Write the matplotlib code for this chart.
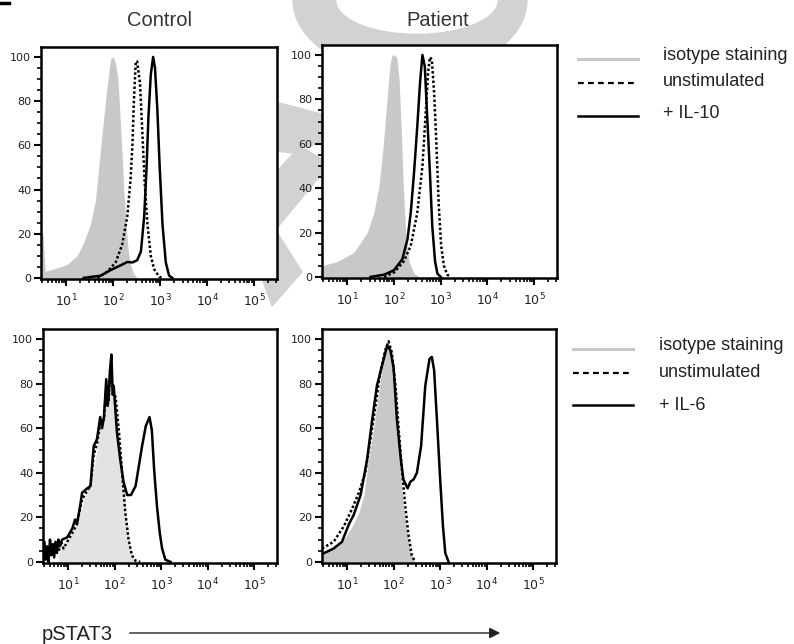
import numpy as np
import matplotlib
matplotlib.use('Agg')
import matplotlib.pyplot as plt
from matplotlib.ticker import LogLocator, MultipleLocator, NullFormatter
from matplotlib.patches import Ellipse, Polygon, FancyArrowPatch
from matplotlib.lines import Line2D

W, H = 794, 644

# --- data (x = log10 fluorescence, y = % of max) ---
# Control, IL-10
c10_iso_x = [0.47, 0.47, 0.50, 0.55, 0.80, 1.01, 1.23, 1.37, 1.51, 1.62, 1.69, 1.76, 1.86, 1.94, 2.00, 2.05, 2.10, 2.14, 2.19, 2.23, 2.28, 2.32, 2.37, 2.43, 2.51]
c10_iso_y = [0, 20, 20, 3, 4.5, 6, 10, 16, 24, 35, 50, 65, 85, 99, 100, 97, 90, 75, 55, 38, 22, 12, 6, 2, 0]
c10_uns_x = [1.66, 1.87, 2.05, 2.19, 2.30, 2.37, 2.41, 2.44, 2.48, 2.51, 2.57, 2.62, 2.67, 2.73, 2.80, 2.87, 2.98, 3.05]
c10_uns_y = [0, 2.7, 7, 15, 28, 45, 61, 80, 98, 98, 88, 66, 43, 24, 10, 4, 0.5, 0]
c10_stim_x = [1.37, 1.73, 1.94, 2.16, 2.30, 2.41, 2.51, 2.59, 2.66, 2.71, 2.75, 2.80, 2.85, 2.89, 2.94, 2.99, 3.05, 3.12, 3.19, 3.26]
c10_stim_y = [0, 1, 3.5, 5.7, 7.2, 7, 8, 12, 28, 50, 73, 92, 100, 95, 76, 50, 24, 7, 1, 0]

# Patient, IL-10
p10_iso_x = [0.46, 0.46, 0.79, 1.14, 1.43, 1.57, 1.68, 1.77, 1.84, 1.91, 1.96, 2.00, 2.06, 2.11, 2.16, 2.20, 2.25, 2.32, 2.43, 2.54]
p10_iso_y = [0, 5, 7, 11, 20, 29, 41, 59, 77, 95, 100, 100, 99, 89, 65, 41, 20, 7, 1.5, 0]
p10_uns_x = [1.79, 2.00, 2.21, 2.36, 2.50, 2.61, 2.68, 2.73, 2.77, 2.81, 2.86, 2.91, 2.96, 3.01, 3.07, 3.14, 3.21]
p10_uns_y = [0, 2, 7, 14, 29, 50, 74, 92, 99, 98, 83, 59, 32, 14, 5, 1, 0]
p10_stim_x = [1.50, 1.79, 2.00, 2.18, 2.29, 2.36, 2.43, 2.50, 2.56, 2.61, 2.66, 2.71, 2.77, 2.82, 2.88, 2.93, 3.00]
p10_stim_y = [0, 1, 3, 8, 17, 29, 47, 68, 88, 100, 95, 73, 47, 23, 7, 1.5, 0]

# Control, IL-6
c6_iso_x = [0.78, 0.80, 0.98, 1.09, 1.23, 1.37, 1.48, 1.59, 1.69, 1.80, 1.87, 1.94, 2.02, 2.09, 2.16, 2.23, 2.30, 2.37, 2.45]
c6_iso_y = [0, 4, 9, 13, 19, 30, 34, 46, 61, 70, 79, 82, 73, 58, 41, 25, 12, 3, 0]
c6_uns_x = [0.80, 0.85, 0.90, 0.98, 1.09, 1.19, 1.30, 1.41, 1.48, 1.55, 1.62, 1.69, 1.77, 1.82, 1.87, 1.90, 1.93, 1.98, 2.02, 2.09, 2.16, 2.23, 2.30, 2.37, 2.45, 2.55]
c6_uns_y = [5, 9, 6, 9, 13, 17, 28, 32, 34, 48, 53, 62, 64, 78, 72, 84, 80, 76, 74, 59, 40, 22, 10, 3, 0.5, 0]
c6_stim_x = [0.46, 0.49, 0.52, 0.55, 0.58, 0.61, 0.64, 0.67, 0.70, 0.73, 0.76, 0.79, 0.82, 0.87, 0.98, 1.09, 1.15, 1.19, 1.25, 1.30, 1.41, 1.48, 1.55, 1.62, 1.69, 1.73, 1.77, 1.82, 1.85, 1.87, 1.90, 1.93, 1.96, 1.98, 2.05, 2.12, 2.19, 2.27, 2.35, 2.45, 2.52, 2.59, 2.67, 2.75, 2.80, 2.85, 2.91, 2.97, 3.02, 3.09, 3.20]
c6_stim_y = [0, 9, 1, 7, 0, 10, 3, 8, 2, 9, 4, 10, 7, 10, 11, 15, 19, 17, 24, 31, 33, 34, 52, 55, 65, 60, 65, 82, 70, 74, 86, 93, 75, 79, 58, 46, 36, 30, 30, 34, 43, 52, 61, 65, 59, 41, 25, 13, 6, 1, 0]

# Patient, IL-6
p6_iso_x = [0.46, 0.46, 0.71, 0.93, 1.11, 1.25, 1.36, 1.46, 1.57, 1.68, 1.79, 1.87, 1.94, 2.01, 2.07, 2.14, 2.21, 2.29, 2.36, 2.44, 2.50]
p6_iso_y = [0, 4, 6, 10, 16, 22, 30, 46, 60, 76, 92, 97.5, 95, 88, 64, 41, 25, 13, 4, 0.5, 0]
p6_uns_x = [0.46, 0.71, 0.93, 1.11, 1.25, 1.39, 1.50, 1.61, 1.71, 1.82, 1.89, 1.96, 2.04, 2.11, 2.18, 2.25, 2.32, 2.39, 2.46]
p6_uns_y = [6, 9, 16, 24, 31, 40, 55, 70, 85, 95, 99, 94, 79, 59, 41, 25, 12, 3, 0]
p6_stim_x = [0.46, 0.71, 0.89, 1.04, 1.14, 1.29, 1.43, 1.54, 1.64, 1.75, 1.86, 1.93, 2.00, 2.07, 2.16, 2.21, 2.30, 2.36, 2.43, 2.50, 2.59, 2.68, 2.77, 2.82, 2.87, 2.93, 3.00, 3.06, 3.11, 3.18]
p6_stim_y = [3.5, 6, 9, 17, 21, 30, 46, 64, 79, 88, 97, 95, 87, 64, 45, 37, 33, 36, 37, 40, 52, 79, 91, 92, 86, 64, 37, 16, 4, 0]

titles = ['Control', 'Patient']
legend_labels_top = ['isotype staining', 'unstimulated', '+ IL-10']
legend_labels_bot = ['isotype staining', 'unstimulated', '+ IL-6']


def px(x, y):
    return (x / W, 1 - y / H)


fig = plt.figure(figsize=(W / 100, H / 100), dpi=100)

# faint background watermark
wm = '#d2d2d2'
fig.add_artist(Ellipse(px(410, 0), 2 * 117 / W, 2 * 75 / H, transform=fig.transFigure, color=wm, zorder=-2))
fig.add_artist(Ellipse(px(417, 0), 2 * 80 / W, 2 * 33 / H, transform=fig.transFigure, color='white', zorder=-1.5))
for poly in ([(268, 100), (325, 115), (325, 140), (293, 153), (268, 150)],
             [(300, 146), (330, 164), (262, 246), (262, 188)],
             [(268, 218), (302, 272), (272, 306), (262, 278)]):
    fig.add_artist(Polygon([px(*p) for p in poly], closed=True, transform=fig.transFigure,
                           color=wm, zorder=-2))

# axes boxes (pixels: left, top, right, bottom)
boxes = [(41, 47, 277, 279), (322, 45, 557, 278), (43, 329, 277, 563), (322, 329, 556, 563)]
panels = [
    (c10_iso_x, c10_iso_y, c10_uns_x, c10_uns_y, c10_stim_x, c10_stim_y, '#c8c8c8'),
    (p10_iso_x, p10_iso_y, p10_uns_x, p10_uns_y, p10_stim_x, p10_stim_y, '#c8c8c8'),
    (c6_iso_x, c6_iso_y, c6_uns_x, c6_uns_y, c6_stim_x, c6_stim_y, '#e3e3e3'),
    (p6_iso_x, p6_iso_y, p6_uns_x, p6_uns_y, p6_stim_x, p6_stim_y, '#c8c8c8'),
]

for i, (b, d) in enumerate(zip(boxes, panels)):
    l, t, r, btm = b
    ax = fig.add_axes([l / W, 1 - btm / H, (r - l) / W, (btm - t) / H])
    ix, iy, ux, uy, sx, sy, fc = d
    ax.fill_between(10 ** np.array(ix), iy, 0, color=fc, lw=0)
    ax.plot(10 ** np.array(ux), uy, color='k', lw=1.8, linestyle=(0, (1, 0.9)))
    ax.plot(10 ** np.array(sx), sy, color='k', lw=1.8)
    ax.set_xscale('log')
    ax.set_xlim(10 ** 0.46, 10 ** 5.49)
    ax.set_ylim(-0.5, 104.5)
    ax.xaxis.set_major_locator(LogLocator(base=10, numticks=12))
    ax.xaxis.set_minor_locator(LogLocator(base=10, subs=np.arange(2, 10), numticks=12))
    ax.xaxis.set_minor_formatter(NullFormatter())
    ax.yaxis.set_major_locator(MultipleLocator(20))
    ax.yaxis.set_minor_locator(MultipleLocator(5))
    ax.tick_params(which='major', direction='out', length=5, width=1.5, labelsize=8, colors='k', labelcolor='#222222')
    ax.tick_params(which='minor', direction='out', length=3, width=1.2)
    ax.tick_params(axis='x', pad=5, labelsize=9)
    ax.tick_params(axis='y', pad=2)
    for s in ax.spines.values():
        s.set_linewidth(1.8)
    if i < 2:
        cx = (l + r) / 2
        fig.text(*px(cx + 1 if i == 0 else cx - 2, 21), titles[i], ha='center', va='center',
                 fontsize=14.5, color='#333333', family='Liberation Sans')

# legends
def legend(lines_y, text_y, x0, x1, tx, labels):
    styles = [dict(color='#c8c8c8', lw=2.2), dict(color='k', lw=1.6, linestyle=(0, (2.6, 1.9))),
              dict(color='k', lw=1.8)]
    for ly, ty, st, lab in zip(lines_y, text_y, styles, labels):
        fig.add_artist(Line2D([x0 / W, x1 / W], [1 - ly / H] * 2, transform=fig.transFigure, **st))
        fig.text(*px(tx, ty), lab, ha='left', va='center', fontsize=13, color='#222222',
                 family='Liberation Sans')

legend([59, 83, 116], [55, 82, 113], 578, 638, 663, legend_labels_top)
legend([349, 373, 405], [345, 373, 405], 573, 633, 659, legend_labels_bot)

# x-axis label with arrow
fig.text(*px(42, 634), 'pSTAT3', ha='left', va='center', fontsize=14.5, color='#222222', family='Liberation Sans')
fig.add_artist(FancyArrowPatch(px(127, 633), px(503, 633), transform=fig.transFigure,
                               arrowstyle='-|>', mutation_scale=16, lw=1.0, color='#222222'))

# small mark in the corner
fig.add_artist(Line2D([0, 9 / W], [1 - 3 / H] * 2, transform=fig.transFigure, color='k', lw=2.5))

fig.savefig('out.png', dpi=100)
